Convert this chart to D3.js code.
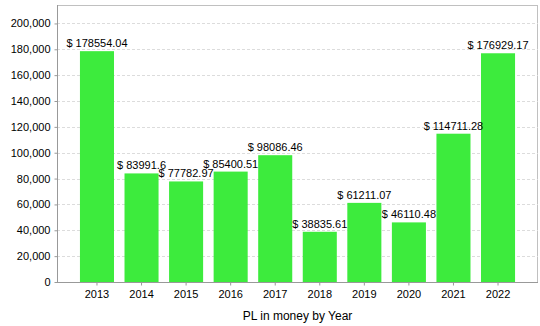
<!DOCTYPE html>
<html><head><meta charset="utf-8">
<script src="https://cdn.jsdelivr.net/npm/d3@7"></script>
<style>body{margin:0;background:#fff}svg{display:block}text{font-family:"Liberation Sans",Arial,sans-serif}</style>
</head><body>
<svg id="c" width="540" height="326"></svg>
<script>
const years = ["2013","2014","2015","2016","2017","2018","2019","2020","2021","2022"];
const values = [178554.04, 83991.6, 77782.97, 85400.51, 98086.46, 38835.61, 61211.07, 46110.48, 114711.28, 176929.17];
const valueLabels = ["$ 178554.04","$ 83991.6","$ 77782.97","$ 85400.51","$ 98086.46","$ 38835.61","$ 61211.07","$ 46110.48","$ 114711.28","$ 176929.17"];
const yTicks = [0,20000,40000,60000,80000,100000,120000,140000,160000,180000,200000];
const xTitle = "PL in money by Year";

const svg = d3.select("#c");
const L = 57, R = 538, T = 5, B = 282;
const x = d3.scaleBand().domain(years).range([L, R]).paddingInner(0.236).paddingOuter(0.515);
const y = d3.scaleLinear().domain([0, d3.max(values) * 1.2]).range([B, T]);

// frame
svg.append("rect").attr("x", L + 0.5).attr("y", T + 0.5).attr("width", R - L - 1).attr("height", B - T)
  .attr("fill", "none").attr("stroke", "#c0c0c0");

// gridlines
svg.append("g").selectAll("line").data(yTicks.filter(d => d > 0)).join("line")
  .attr("x1", L).attr("x2", R).attr("y1", d => Math.round(y(d)) + 0.5).attr("y2", d => Math.round(y(d)) + 0.5)
  .attr("stroke", "#dcdcdc").attr("stroke-dasharray", "3,2");

// bars
svg.append("g").selectAll("rect").data(values).join("rect")
  .attr("x", (d, i) => x(years[i])).attr("width", x.bandwidth())
  .attr("y", d => y(d)).attr("height", d => B - y(d))
  .attr("fill", "#3deb3d");

// value labels
svg.append("g").selectAll("text").data(values).join("text")
  .attr("x", (d, i) => x(years[i]) + x.bandwidth() / 2).attr("y", d => y(d) - 4)
  .attr("text-anchor", "middle").attr("font-size", 11).attr("fill", "#000")
  .text((d, i) => valueLabels[i]);

// y axis
const yAxis = d3.axisLeft(y).tickValues(yTicks).tickSize(3).tickFormat(d3.format(","));
const gy = svg.append("g").attr("transform", `translate(${L + 0.5},0)`).call(yAxis);
gy.select(".domain").attr("stroke", "#999").attr("d", `M0,${T}V${B}`);
gy.selectAll(".tick line").attr("stroke", "#999");
gy.selectAll(".tick text").attr("font-size", 11).attr("fill", "#000").attr("font-family", "Liberation Sans, Arial, sans-serif").attr("dx", -1);

// x axis
const xAxis = d3.axisBottom(x).tickSize(3).tickSizeOuter(0);
const gx = svg.append("g").attr("transform", `translate(0,${B + 0.5})`).call(xAxis);
gx.select(".domain").attr("stroke", "#999").attr("d", `M${L},0H${R}`);
gx.selectAll(".tick line").attr("stroke", "#999");
gx.selectAll(".tick text").attr("font-size", 11).attr("fill", "#000").attr("font-family", "Liberation Sans, Arial, sans-serif").attr("dy", "0.9em");

svg.append("text").attr("x", (L + R) / 2).attr("y", 320).attr("text-anchor", "middle")
  .attr("font-size", 12).attr("fill", "#000").text(xTitle);
</script>
</body></html>
